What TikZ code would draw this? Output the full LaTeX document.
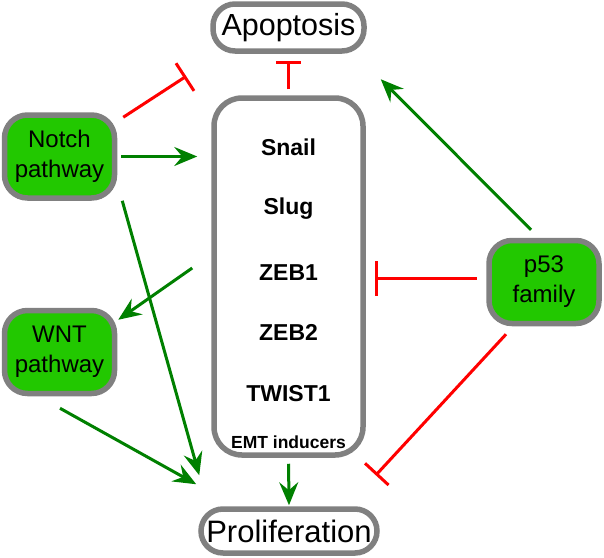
\documentclass[tikz,border=0pt]{standalone}
\usepackage{fontspec}
\setmainfont{Liberation Sans}
\usetikzlibrary{arrows.meta,calc}

\definecolor{boxgreen}{RGB}{34,200,0}
\definecolor{boxgray}{RGB}{128,128,128}
\definecolor{actgreen}{RGB}{0,128,0}
\definecolor{inhred}{RGB}{255,0,0}

\begin{document}
\begin{tikzpicture}[x=1pt,y=-1pt]
      \useasboundingbox (0,0) rectangle (604,557);

      \begin{scope}[every node/.style={draw=boxgray,line width=5.5pt,rounded corners=22pt,inner sep=0pt,align=center}]
        \node[minimum width=151pt,minimum height=47pt,font=\fontsize{30.5}{36}\selectfont] (apo)  at (288.5,27.5) {Apoptosis};
        \node[minimum width=149pt,minimum height=357pt,rounded corners=28pt] (emt)  at (288.5,276.5) {};
        \node[minimum width=176pt,minimum height=44pt,font=\fontsize{31}{36}\selectfont] (prolif)  at (289,531) {Proliferation};
      \end{scope}

      \begin{scope}[every node/.style={draw=boxgray,fill=boxgreen,line width=5.5pt,rounded corners=23pt,inner sep=0pt,align=center,
          minimum width=110pt,minimum height=83pt,font=\fontsize{24}{30}\selectfont}]
        \node (notch)  at (59.5,156.5)  {Notch\\pathway};
        \node (wnt)  at (59.5,352)  {WNT\\pathway};
        \node (p53)  at (544,282)  {p53\\family};
      \end{scope}

      \begin{scope}[every node/.style={anchor=base,font=\bfseries\fontsize{23}{28}\selectfont}]
        \node (snail)  at (288.5,155)  {Snail};
        \node (slug)  at (288.5,214)  {Slug};
        \node (zeb1)  at (288.5,280)  {ZEB1};
        \node (zeb2)  at (288.5,340)  {ZEB2};
        \node (twist1)  at (288.5,401)  {TWIST1};
        \node[font=\bfseries\fontsize{17.5}{21}\selectfont] (inducers)  at (288.5,448)  {EMT inducers};
      \end{scope}

      % free ends
      \coordinate (apoL) at ($(emt.north west)+(-25,-19)$);
      \coordinate (apoR) at ($(emt.north east)+(15,-16)$);

      \begin{scope}[every edge/.style={draw=actgreen,line width=3pt,-{Stealth[length=23pt,width=19pt,inset=8pt]}}]
        \path (notch.east)  edge[shorten <=4pt,shorten >=14pt] (notch.east -| emt.west);
        \path ($(p53.north)+(-13,-8)$)  edge (apoR);
        \path ($(emt.west)+(-19,-8.5)$)  edge ($(wnt.north east)+(1,12)$);
        \path ($(notch.south east)+(5,0)$)  edge ($(prolif.north west)+(1,-31)$);
        \path ($(wnt.south)+(0.5,12)$)  edge ($(prolif.north west)+(-2,-22)$);
        \path (emt.south)  edge[shorten <=6pt,shorten >=1pt] (prolif.north);
      \end{scope}

      \begin{scope}[every edge/.style={draw=inhred,line width=3pt}]
        \path ($(notch.north east)+(6,5)$)  edge[-{Bar[width=33pt]}] (apoL);
        \path (emt.north)  edge[-{Bar[width=25pt]},shorten <=6pt,shorten >=7pt] (apo.south);
        \path ($(p53.west)+(-9.5,-4)$)  edge[-{Bar[width=35pt]}] ($(emt.east)+(9,1.5)$);
        \path ($(p53.south)+(-38,8)$)  edge[-{Bar[width=32pt]}] ($(prolif.north east)+(-4,-31)$);
      \end{scope}

    \end{tikzpicture}
\end{document}
